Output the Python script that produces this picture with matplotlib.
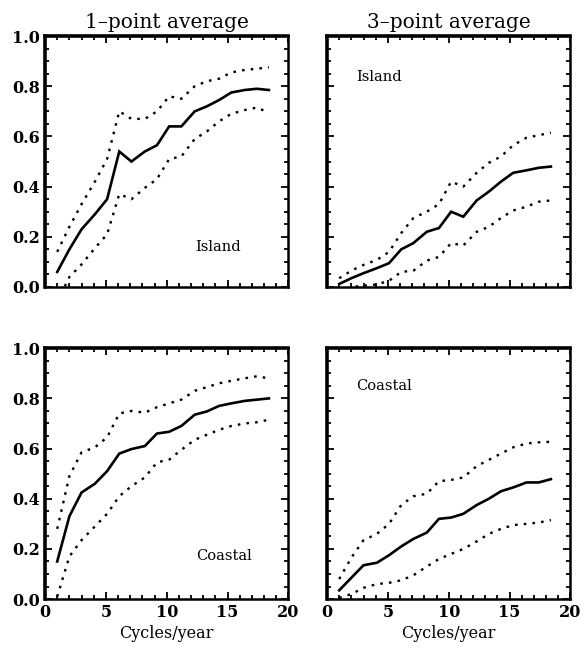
import numpy as np
import matplotlib
matplotlib.use("Agg")
import matplotlib.pyplot as plt
from matplotlib.ticker import MultipleLocator, FormatStrFormatter

plt.rcParams['font.family'] = 'DejaVu Serif'

# frequency grid (cycles/year)
freq = [1.0, 2.0, 3.0, 4.1, 5.1, 6.1, 7.1, 8.2, 9.2, 10.2,
        11.2, 12.3, 13.3, 14.3, 15.3, 16.4, 17.4, 18.4]

# island, 1-point average
isl1_mid = [0.06, 0.15, 0.23, 0.29, 0.35, 0.54, 0.50, 0.54, 0.565, 0.64,
            0.64, 0.70, 0.72, 0.745, 0.775, 0.785, 0.79, 0.785]
isl1_hi = [0.14, 0.24, 0.33, 0.42, 0.51, 0.70, 0.67, 0.67, 0.70, 0.76,
           0.75, 0.80, 0.82, 0.83, 0.855, 0.865, 0.87, 0.875]
isl1_lo = [-0.06, 0.04, 0.09, 0.155, 0.21, 0.37, 0.35, 0.395, 0.43, 0.51,
           0.52, 0.59, 0.62, 0.66, 0.69, 0.705, 0.715, 0.695]

# island, 3-point average
isl3_mid = [0.012, 0.035, 0.055, 0.075, 0.095, 0.15, 0.175, 0.22, 0.235, 0.30,
            0.28, 0.345, 0.38, 0.42, 0.455, 0.465, 0.475, 0.48]
isl3_hi = [0.035, 0.065, 0.088, 0.108, 0.14, 0.215, 0.275, 0.30, 0.33, 0.42,
           0.40, 0.455, 0.495, 0.52, 0.565, 0.595, 0.605, 0.615]
isl3_lo = [-0.02, 0.0, 0.005, 0.01, 0.025, 0.06, 0.065, 0.105, 0.12, 0.175,
           0.165, 0.22, 0.24, 0.275, 0.305, 0.32, 0.34, 0.345]

# coastal, 1-point average
cst1_mid = [0.15, 0.33, 0.425, 0.46, 0.51, 0.58, 0.598, 0.61, 0.66, 0.667,
            0.69, 0.735, 0.748, 0.77, 0.78, 0.79, 0.795, 0.80]
cst1_hi = [0.28, 0.49, 0.585, 0.605, 0.645, 0.74, 0.75, 0.743, 0.765, 0.78,
           0.795, 0.83, 0.845, 0.86, 0.87, 0.88, 0.888, 0.88]
cst1_lo = [0.01, 0.17, 0.235, 0.29, 0.34, 0.41, 0.45, 0.485, 0.545, 0.556,
           0.595, 0.635, 0.655, 0.675, 0.69, 0.70, 0.705, 0.715]

# coastal, 3-point average
cst3_mid = [0.035, 0.085, 0.135, 0.145, 0.175, 0.21, 0.24, 0.265, 0.32, 0.325,
            0.34, 0.375, 0.40, 0.43, 0.445, 0.465, 0.465, 0.478]
cst3_hi = [0.08, 0.165, 0.235, 0.26, 0.30, 0.375, 0.41, 0.42, 0.47, 0.475,
           0.485, 0.53, 0.555, 0.58, 0.605, 0.62, 0.625, 0.627]
cst3_lo = [0.005, 0.02, 0.045, 0.06, 0.065, 0.075, 0.095, 0.13, 0.16, 0.18,
           0.20, 0.23, 0.26, 0.28, 0.295, 0.30, 0.305, 0.315]

titles = ["1\u2013point average", "3\u2013point average"]

fig = plt.figure(figsize=(5.85, 6.62), dpi=100)
lefts = [0.077, 0.559]
bottoms = [0.5665, 0.095]
w, h = 0.416, 0.379

panels = [
    (0, 0, isl1_mid, isl1_hi, isl1_lo, "Island", 14.2, 0.16),
    (0, 1, isl3_mid, isl3_hi, isl3_lo, "Island", 4.25, 0.835),
    (1, 0, cst1_mid, cst1_hi, cst1_lo, "Coastal", 14.7, 0.17),
    (1, 1, cst3_mid, cst3_hi, cst3_lo, "Coastal", 4.7, 0.85),
]

for row, col, mid, hi, lo, lab, tx, ty in panels:
    ax = fig.add_axes([lefts[col], bottoms[row], w, h])
    ax.plot(freq, mid, color='black', lw=1.9, solid_joinstyle='miter')
    ax.plot(freq, hi, color='black', lw=1.7, linestyle=(0, (1.1, 2.6)))
    ax.plot(freq, lo, color='black', lw=1.7, linestyle=(0, (1.1, 2.6)))
    ax.set_xlim(0, 20)
    ax.set_ylim(0, 1.0)
    ax.xaxis.set_major_locator(MultipleLocator(5))
    ax.xaxis.set_minor_locator(MultipleLocator(1))
    ax.yaxis.set_major_locator(MultipleLocator(0.2))
    ax.yaxis.set_minor_locator(MultipleLocator(0.05))
    ax.yaxis.set_major_formatter(FormatStrFormatter('%.1f'))
    ax.tick_params(which='both', direction='in', top=True, right=True,
                   width=1.3, labelsize=11.5)
    ax.tick_params(which='major', length=5)
    ax.tick_params(which='minor', length=3)
    for t in ax.get_xticklabels() + ax.get_yticklabels():
        t.set_fontweight('bold')
    for s in ax.spines.values():
        s.set_linewidth(1.8)
    ax.spines['top'].set_linewidth(2.6)
    ax.spines['left'].set_linewidth(2.6)
    if col == 1:
        ax.set_yticklabels([])
    if row == 0:
        ax.set_xticklabels([])
        ax.set_title(titles[col], fontsize=14.5, pad=6)
    else:
        ax.set_xlabel("Cycles/year", fontsize=11.5, labelpad=3)
    ax.text(tx, ty, lab, ha='center', va='center', fontsize=10.5)

fig.savefig("out.png", dpi=100)
